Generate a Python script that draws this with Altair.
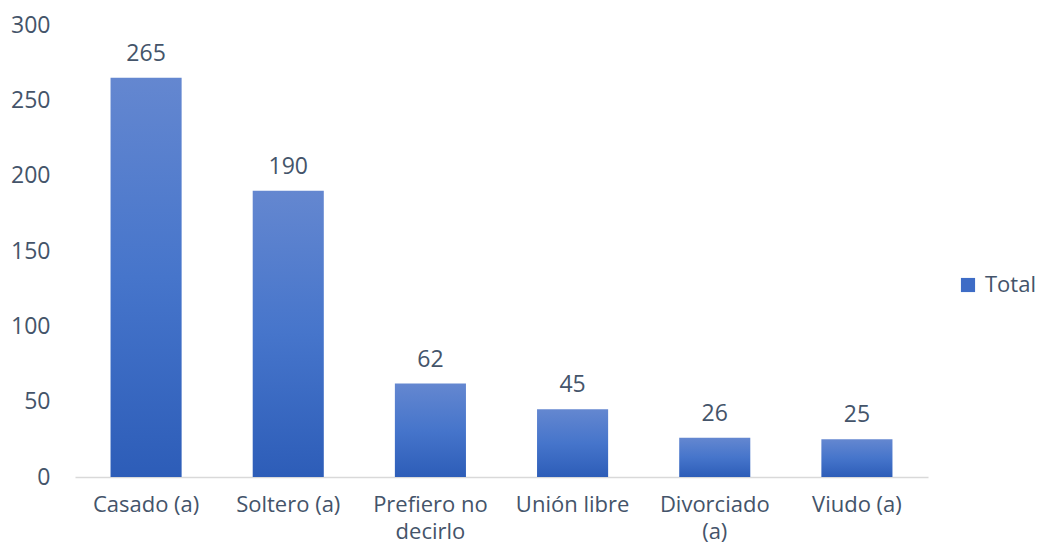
import altair as alt
import pandas as pd

categories = ["Casado (a)", "Soltero (a)", "Prefiero no decirlo", "Unión libre", "Divorciado (a)", "Viudo (a)"]
values = [265, 190, 62, 45, 26, 25]
series = ["Total"] * len(categories)

df = pd.DataFrame({"cat": categories, "val": values, "serie": series})

TXT = "#44546A"
FONT = "Open Sans"
FS = 23

gradient = alt.LinearGradient(
    gradient="linear",
    stops=[
        alt.GradientStop(color="#6487D0", offset=0),
        alt.GradientStop(color="#4675CB", offset=0.5),
        alt.GradientStop(color="#2D5DB8", offset=1),
    ],
    x1=0, x2=0, y1=0, y2=1,
)

label_expr = ("datum.value == 'Prefiero no decirlo' ? ['Prefiero no', 'decirlo'] : "
              "datum.value == 'Divorciado (a)' ? ['Divorciado', '(a)'] : datum.value")

x = alt.X("cat:N", sort=categories, title=None,
          scale=alt.Scale(paddingInner=0.5, paddingOuter=0.25),
          axis=alt.Axis(labelAngle=0, labelExpr=label_expr, ticks=False,
                        domainColor="#D9D9D9", domainWidth=1.5,
                        labelFontSize=22, labelColor=TXT, labelFont=FONT,
                        labelPadding=17, labelLineHeight=27, labelLimit=200))
y = alt.Y("val:Q", title=None,
          scale=alt.Scale(domain=[0, 300], nice=False),
          axis=alt.Axis(values=[0, 50, 100, 150, 200, 250, 300], grid=False, ticks=False,
                        domain=False, labelFontSize=FS, labelColor=TXT, labelFont=FONT,
                        labelPadding=25))

bars = alt.Chart(df).mark_bar(color=gradient).encode(x=x, y=y)

text = alt.Chart(df).mark_text(fontSize=FS, color=TXT, font=FONT, dy=-17,
                               baseline="alphabetic").encode(
    x=alt.X("cat:N", sort=categories), y="val:Q", text="val:Q")

legend_layer = alt.Chart(df).mark_square(opacity=0, size=0).encode(
    x=alt.X("cat:N", sort=categories), y="val:Q",
    color=alt.Color("serie:N", title=None,
                    scale=alt.Scale(range=["#3E6CC6"]),
                    legend=alt.Legend(orient="none", legendX=882, legendY=249,
                                      symbolType="square", symbolSize=200,
                                      symbolOpacity=1, symbolStrokeWidth=0,
                                      labelFontSize=22, labelColor=TXT, labelFont=FONT,
                                      labelOffset=6, labelLimit=300)))

chart = alt.layer(bars, text, legend_layer).properties(
    width=853, height=452,
    autosize=alt.AutoSizeParams(type="none"),
    padding={"left": 67, "top": 17, "right": 107, "bottom": 69},
).configure_view(stroke=None)

chart.save("out.html", embed_options={"renderer": "svg", "actions": False})
